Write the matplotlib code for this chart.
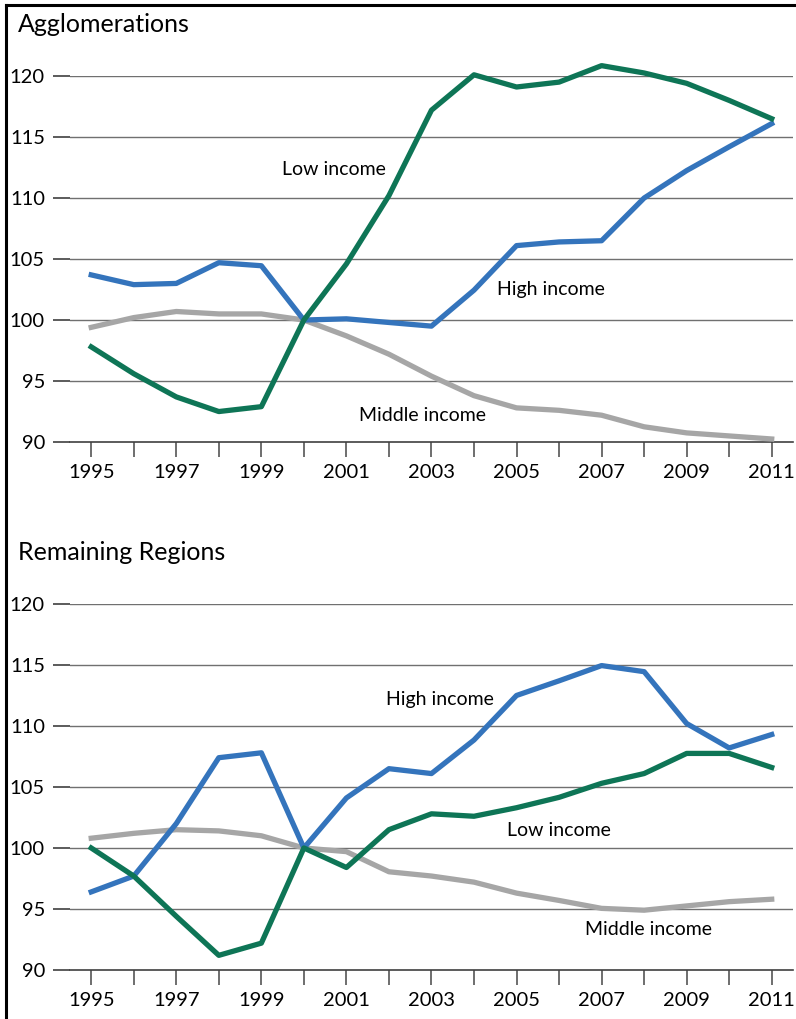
import matplotlib.pyplot as plt

plt.rcParams['font.family'] = ['Lato', 'DejaVu Sans']

years = list(range(1995, 2012))

# Agglomerations
aggl_high = [103.7, 102.9, 103.0, 104.7, 104.45, 100.0, 100.1, 99.8, 99.5, 102.45,
             106.1, 106.4, 106.5, 110.0, 112.25, 114.2, 116.1]
aggl_low = [97.8, 95.6, 93.7, 92.5, 92.9, 100.0, 104.6, 110.2, 117.2, 120.1,
            119.1, 119.5, 120.85, 120.25, 119.4, 118.0, 116.5]
aggl_mid = [99.4, 100.2, 100.7, 100.5, 100.5, 100.0, 98.7, 97.2, 95.4, 93.8,
            92.8, 92.6, 92.2, 91.25, 90.75, 90.5, 90.25]

# Remaining regions
rem_high = [96.4, 97.7, 102.0, 107.4, 107.8, 100.0, 104.1, 106.5, 106.1, 108.85,
            112.5, 113.7, 114.95, 114.45, 110.2, 108.2, 109.3]
rem_low = [100.0, 97.7, 94.4, 91.2, 92.2, 100.0, 98.4, 101.5, 102.8, 102.6,
           103.3, 104.15, 105.3, 106.1, 107.75, 107.75, 106.6]
rem_mid = [100.8, 101.2, 101.5, 101.4, 101.0, 100.0, 99.7, 98.05, 97.7, 97.2,
           96.3, 95.7, 95.05, 94.9, 95.25, 95.6, 95.8]

yticks = [90, 95, 100, 105, 110, 115, 120]

BLUE = '#3474bc'
GREEN = '#0e7556'
GRAY = '#a6a6a6'


def draw_panel(ax, high, low, mid, labels):
    ax.set_xlim(1994.5, 2011.5)
    ax.set_ylim(90, 120)
    for v in yticks[1:]:
        ax.axhline(v, color='#707070', linewidth=1.0, zorder=1)
    ax.plot(years, mid, color=GRAY, linewidth=3.8, zorder=3, clip_on=False)
    ax.plot(years, high, color=BLUE, linewidth=3.8, zorder=4, clip_on=False)
    ax.plot(years, low, color=GREEN, linewidth=3.8, zorder=5, clip_on=False)

    for spine in ['top', 'right', 'left']:
        ax.spines[spine].set_visible(False)
    ax.spines['bottom'].set_color('#404040')
    ax.spines['bottom'].set_linewidth(1.2)

    ax.set_yticks(yticks)
    ax.set_yticklabels([str(v) for v in yticks])
    ax.tick_params(axis='y', length=12, width=1.2, color='#404040', pad=6, labelsize=14.5)
    ax.set_xticks(years)
    ax.set_xticklabels([str(y) if (y - 1995) % 2 == 0 else '' for y in years])
    ax.tick_params(axis='x', length=11, width=1.2, color='#555555', pad=5, labelsize=14.5)
    ax.set_facecolor('none')

    for text, x, y in labels:
        ax.text(x, y, text, fontsize=14, ha='center', va='center', zorder=6)


fig = plt.figure(figsize=(7.96, 10.19), dpi=100)

ax1 = fig.add_axes([0.0879, 0.5662, 0.9083, 0.3592])
draw_panel(ax1, aggl_high, aggl_low, aggl_mid,
           [('Low income', 2000.7, 112.3),
            ('High income', 2005.8, 102.5),
            ('Middle income', 2002.8, 92.2)])

ax2 = fig.add_axes([0.0879, 0.0481, 0.9083, 0.3592])
draw_panel(ax2, rem_high, rem_low, rem_mid,
           [('High income', 2003.2, 112.2),
            ('Low income', 2006.0, 101.4),
            ('Middle income', 2008.1, 93.3)])

fig.text(0.0226, 1 - 24 / 1019, 'Agglomerations', fontsize=18, ha='left', va='center')
fig.text(0.0226, 1 - 552 / 1019, 'Remaining Regions', fontsize=18, ha='left', va='center')

# frame line on left and top
fig.add_artist(plt.Line2D([6 / 796, 6 / 796], [0, 1 - 5 / 1019], color='black', linewidth=2.2,
                          transform=fig.transFigure))
fig.add_artist(plt.Line2D([6 / 796, 1], [1 - 5 / 1019, 1 - 5 / 1019], color='black', linewidth=2.2,
                          transform=fig.transFigure))

fig.savefig('out.png', dpi=100)
